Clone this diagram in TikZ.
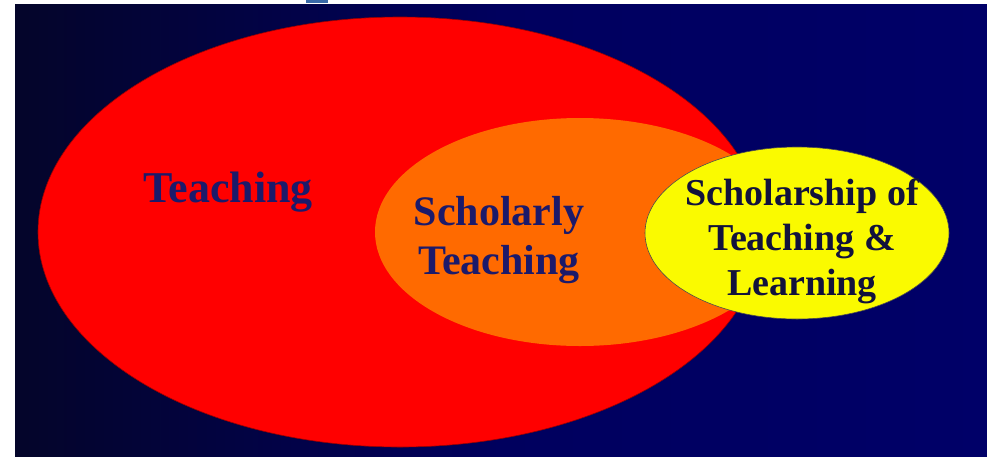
\documentclass[tikz,border=0pt]{standalone}
\usepackage{fontspec}
\setmainfont{Liberation Serif}
\definecolor{bgdark}{HTML}{04052A}
\definecolor{bgmid}{HTML}{00005E}
\definecolor{bgright}{HTML}{000068}
\definecolor{redfill}{HTML}{FF0000}
\definecolor{orangefill}{HTML}{FF6A00}
\definecolor{yellowfill}{HTML}{FAFA00}
\definecolor{textblue}{HTML}{1C1A6A}
\definecolor{textdark}{HTML}{12123C}
\definecolor{tabblue}{HTML}{3A6AA8}
\begin{document}
\begin{tikzpicture}[x=1pt,y=-1pt,
  lbl/.style={font=\bfseries\fontsize{42}{49}\selectfont, align=center, inner sep=0pt},
  lbly/.style={font=\bfseries\fontsize{38}{45}\selectfont, align=center, inner sep=0pt, text=textdark}]
\useasboundingbox (0,0) rectangle (987,456);
\fill[white] (0,0) rectangle (987,456);
\shade[left color=bgdark, right color=bgmid] (15,4) rectangle (500,456);
\shade[left color=bgmid, right color=bgright] (500,4) rectangle (987,456);
\fill[tabblue, draw=white, line width=0.5pt] (305,-1) rectangle (328,3);
% ellipses
\fill[redfill, draw=red!60!black, line width=0.6pt] (400,232) ellipse [x radius=362, y radius=215];
\fill[orangefill] (580,232) ellipse [x radius=205, y radius=114];
\fill[yellowfill, draw=black!70, line width=0.6pt] (797,233) ellipse [x radius=152, y radius=86];
% labels
\node[lbl, font=\bfseries\fontsize{44}{49}\selectfont, text=textblue, anchor=base] (teach) at (228,202) {Teaching};
\node[lbl, text=textblue, anchor=base] (schol) at (499,274) {Scholarly\\Teaching};
\node[lbly, anchor=base] (sotl) at (802,295) {Scholarship of\\Teaching \&\\Learning};
\end{tikzpicture}
\end{document}
